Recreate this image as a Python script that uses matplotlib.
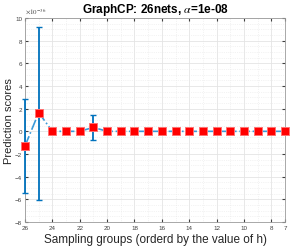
import numpy as np
import matplotlib.pyplot as plt
from matplotlib.ticker import MultipleLocator

# sampling groups (ordered by h) and prediction scores, in units of 1e-36
groups = list(range(26, 6, -1))
scores = [-1.3, 1.65, 0, 0, 0, 0.35, 0, 0, 0, 0, 0, 0, 0, 0, 0, 0, 0, 0, 0, 0]
err_low = [4.15, 7.7, 0, 0, 0, 1.1, 0, 0, 0, 0, 0, 0, 0, 0, 0, 0, 0, 0, 0, 0]
err_high = [4.15, 7.6, 0, 0, 0, 1.1, 0, 0, 0, 0, 0, 0, 0, 0, 0, 0, 0, 0, 0, 0]

xticks = [26, 24, 22, 20, 18, 16, 14, 12, 10, 8, 7]

plt.rcParams['font.family'] = ['Liberation Sans', 'DejaVu Sans']
plt.rcParams['mathtext.fontset'] = 'stix'

fig = plt.figure(figsize=(2.99, 2.51), dpi=100)
ax = fig.add_axes([25 / 299, 28 / 251, 260 / 299, 204 / 251])

x = np.array(groups)
y = np.array(scores)
ax.errorbar(x, y, yerr=[err_low, err_high], fmt='none', ecolor='#0072BD',
            elinewidth=1.3, capsize=2.2, capthick=1.0, zorder=3, clip_on=False)
ax.plot(x, y, linestyle='-.', color='#3a9ad9', linewidth=1.2, zorder=4,
        clip_on=False)
ax.plot(x, y, linestyle='none', marker='s', markersize=5.5,
        markerfacecolor='#ff0000', markeredgecolor='#ff7070',
        markeredgewidth=0.7, zorder=5, clip_on=False)

ax.set_xlim(26, 7)
ax.set_ylim(-8, 10)
ax.set_xticks(xticks)
ax.set_yticks(range(-8, 11, 2))
ax.xaxis.set_minor_locator(MultipleLocator(1))
ax.yaxis.set_minor_locator(MultipleLocator(0.5))
ax.grid(True, which='major', linestyle='-', color='#e4e4e4', linewidth=0.6)
ax.grid(True, which='minor', linestyle=':', color='#e8e8e8', linewidth=0.5)
ax.set_axisbelow(True)
ax.tick_params(which='both', direction='in', labelsize=4.5, length=2,
               colors='#404040', top=True, right=True, pad=2)
ax.tick_params(which='minor', length=0)
for s in ax.spines.values():
    s.set_color('#9a9a9a')
    s.set_linewidth(0.6)

ax.text(0.0, 1.01, r'$\times10^{-36}$', transform=ax.transAxes,
        fontsize=5, color='#404040', ha='left', va='bottom')
ax.set_title(r'GraphCP: 26nets, $\alpha$=1e-08', fontsize=8.5,
             fontweight='bold', pad=4)
ax.set_xlabel('Sampling groups (orderd by the value of h)', fontsize=8.5,
              labelpad=2, color='#262626')
ax.set_ylabel('Prediction scores', fontsize=8, labelpad=1, color='#262626')

fig.savefig('out.png', dpi=100)
